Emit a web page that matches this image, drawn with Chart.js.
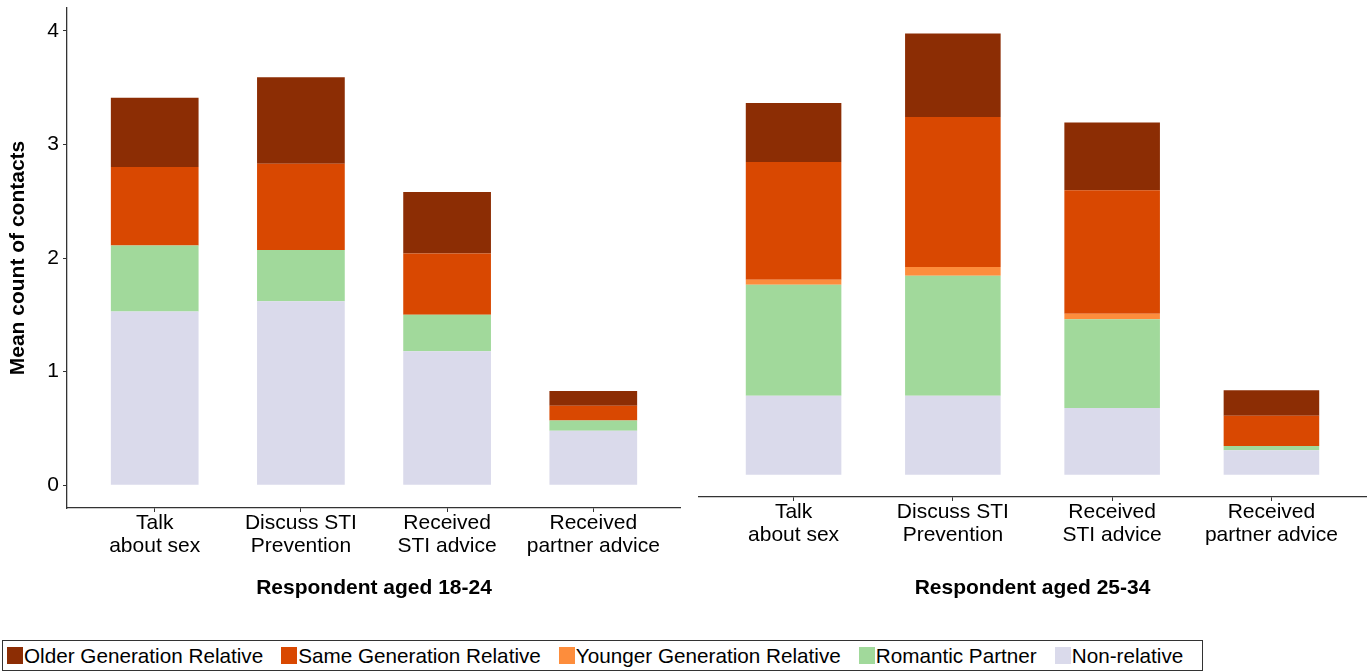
<!DOCTYPE html>
<html>
<head>
<meta charset="utf-8">
<script src="https://cdn.jsdelivr.net/npm/chart.js@4.4.1/dist/chart.umd.min.js"></script>
<style>
  body { margin: 0; background: #fff; width: 1367px; height: 672px; overflow: hidden; position: relative; font-family: "Liberation Sans", Arial, sans-serif; }
  canvas { position: absolute; top: 0; }
  #left { left: 0; }
  #right { left: 698px; }
  #legend { position: absolute; left: 2px; top: 640px; width: 1199px; height: 29px; border: 1px solid #333;
            display: flex; align-items: center; font-size: 20.7px; color: #000; white-space: nowrap; }
  #legend .item { display: flex; align-items: center; flex-shrink: 0; margin-left: 4px; margin-right: 14px; }
  #legend .sw { width: 16px; height: 17px; margin-right: 1px; flex-shrink: 0; }
</style>
</head>
<body>
<canvas id="left" width="681" height="600"></canvas>
<canvas id="right" width="669" height="600"></canvas>
<div id="legend"></div>
<script>
// categories (two-line tick labels)
const categories = [['Talk', 'about sex'], ['Discuss STI', 'Prevention'], ['Received', 'STI advice'], ['Received', 'partner advice']];
const yTicks = [0, 1, 2, 3, 4];

// series, bottom of the stack first
const seriesNames = ['Non-relative', 'Romantic Partner', 'Younger Generation Relative', 'Same Generation Relative', 'Older Generation Relative'];
const seriesColors = ['#DADAEB', '#A1D99B', '#FD8D3C', '#D94801', '#8C2D04'];

// Respondent aged 18-24
const nonRel1824   = [1.53, 1.62, 1.18, 0.48];
const romantic1824 = [0.58, 0.45, 0.32, 0.09];
const younger1824  = [0, 0, 0, 0];
const same1824     = [0.69, 0.76, 0.54, 0.13];
const older1824    = [0.61, 0.76, 0.54, 0.13];

// Respondent aged 25-34
const nonRel2534   = [0.71, 0.71, 0.60, 0.22];
const romantic2534 = [1.00, 1.08, 0.80, 0.04];
const younger2534  = [0.045, 0.08, 0.05, 0];
const same2534     = [1.06, 1.35, 1.11, 0.27];
const older2534    = [0.53, 0.75, 0.61, 0.23];

const FONT = "'Liberation Sans', Arial, sans-serif";

function makeDatasets(series) {
  return series.map((vals, s) => ({
    label: seriesNames[s],
    data: vals.map((v, i) => ({ x: i, y: v })),
    backgroundColor: seriesColors[s],
    borderWidth: 0,
    categoryPercentage: 1,
    barPercentage: 0.6
  }));
}

function makeChart(id, series, title, showY, xHeight) {
  new Chart(document.getElementById(id).getContext('2d'), {
    type: 'bar',
    data: { datasets: makeDatasets(series) },
    options: {
      responsive: false,
      animation: false,
      layout: { padding: { top: 8, left: 0, right: 0, bottom: 0 } },
      plugins: { legend: { display: false }, tooltip: { enabled: false } },
      scales: {
        x: {
          type: 'linear',
          stacked: true,
          offset: false,
          min: -0.6,
          max: 3.6,
          afterBuildTicks: (scale) => { scale.ticks = categories.map((c, i) => ({ value: i })); },
          afterFit: (scale) => { scale.height = xHeight; scale.paddingLeft = 0; scale.paddingRight = 0; },
          ticks: {
            autoSkip: false,
            maxRotation: 0,
            padding: 0,
            color: '#000',
            font: { family: FONT, size: 21, lineHeight: 1.1 },
            callback: (v) => categories[v]
          },
          grid: { display: true, offset: false, drawOnChartArea: false, drawTicks: true, tickLength: 4, color: '#333', lineWidth: 1 },
          border: { display: true, color: '#333', width: 1.3 },
          title: {
            display: true,
            text: title,
            color: '#000',
            font: { family: FONT, size: 21, weight: 'bold', lineHeight: 1.1 },
            padding: { top: 0, bottom: 0 }
          }
        },
        y: {
          display: showY,
          stacked: true,
          min: -0.2,
          max: 4.2,
          afterBuildTicks: (scale) => { scale.ticks = yTicks.map(v => ({ value: v })); },
          afterFit: (scale) => {
            if (showY) scale.width = 67;
            scale.paddingTop = 0;
            scale.paddingBottom = 0;
          },
          ticks: { padding: 4, color: '#000', font: { family: FONT, size: 21 } },
          grid: { display: true, drawOnChartArea: false, drawTicks: true, tickLength: 4, color: '#333', lineWidth: 1 },
          border: { display: true, color: '#333', width: 1.3 },
          title: {
            display: true,
            text: 'Mean count of contacts',
            color: '#000',
            font: { family: FONT, size: 21, weight: 'bold', lineHeight: 1.2 },
            padding: { top: 6, bottom: 0 }
          }
        }
      }
    }
  });
}

makeChart('left', [nonRel1824, romantic1824, younger1824, same1824, older1824], 'Respondent aged 18-24', true, 92);
makeChart('right', [nonRel2534, romantic2534, younger2534, same2534, older2534], 'Respondent aged 25-34', false, 103);

// legend, top of the stack first
const legend = document.getElementById('legend');
for (let s = seriesNames.length - 1; s >= 0; s--) {
  const item = document.createElement('div');
  item.className = 'item';
  item.innerHTML = '<span class="sw" style="background:' + seriesColors[s] + '"></span><span>' + seriesNames[s] + '</span>';
  legend.appendChild(item);
}
</script>
</body>
</html>
